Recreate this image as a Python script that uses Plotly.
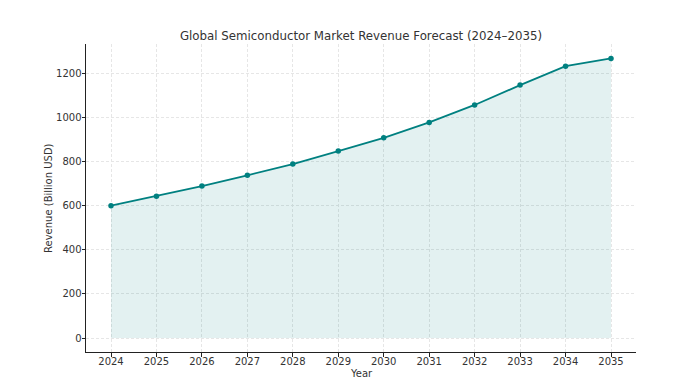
import plotly.graph_objects as go

years = [2024, 2025, 2026, 2027, 2028, 2029, 2030, 2031, 2032, 2033, 2034, 2035]
revenue = [600, 643, 689, 738, 789, 848, 908, 978, 1057, 1147, 1233, 1268]
y_ticks = [0, 200, 400, 600, 800, 1000, 1200]

teal = "#008080"

fig = go.Figure()
fig.add_trace(go.Scatter(
    x=years, y=revenue, mode="lines+markers",
    line=dict(color=teal, width=1.8),
    marker=dict(color=teal, size=5.5),
    fill="tozeroy", fillcolor="rgba(0,128,128,0.11)",
    hoverinfo="x+y", showlegend=False,
))

font = "DejaVu Sans, Verdana, sans-serif"
fig.update_layout(
    width=673, height=376,
    margin=dict(l=78, r=45, t=36, b=32, autoexpand=False),
    paper_bgcolor="white", plot_bgcolor="white",
    font=dict(family=font, size=10, color="#333333"),
    title=dict(text="Global Semiconductor Market Revenue Forecast (2024–2035)",
               x=0.5, xref="paper", xanchor="center", y=0.925, yref="container",
               yanchor="middle", font=dict(size=11.8, color="#333333")),
    xaxis=dict(
        range=[2023.45, 2035.55], tickvals=years, ticktext=[str(y) for y in years],
        showline=True, linecolor="#222222", linewidth=1, mirror=False,
        ticks="outside", ticklen=3.5, tickcolor="#222222", ticklabelstandoff=-4,
        showgrid=True, gridcolor="#e6e6e6", griddash="3px,2px", gridwidth=0.8,
        zeroline=False, automargin=False,
    ),
    yaxis=dict(
        range=[-63.5, 1333.5], tickvals=y_ticks,
        showline=True, linecolor="#222222", linewidth=1, mirror=False,
        ticks="outside", ticklen=3.5, tickcolor="#222222", ticklabelstandoff=-2,
        showgrid=True, gridcolor="#e6e6e6", griddash="3px,2px", gridwidth=0.8,
        zeroline=False, automargin=False,
    ),
    annotations=[
        dict(text="Year", xref="paper", yref="paper", x=0.5, y=0,
             yshift=-21, xanchor="center", yanchor="middle",
             showarrow=False, font=dict(size=10, color="#333333")),
        dict(text="Revenue (Billion USD)", xref="paper", yref="paper", x=0, y=0.5,
             xshift=-38, xanchor="center", yanchor="middle", textangle=-90,
             showarrow=False, font=dict(size=10, color="#333333")),
    ],
)

fig.write_html("out.html")
